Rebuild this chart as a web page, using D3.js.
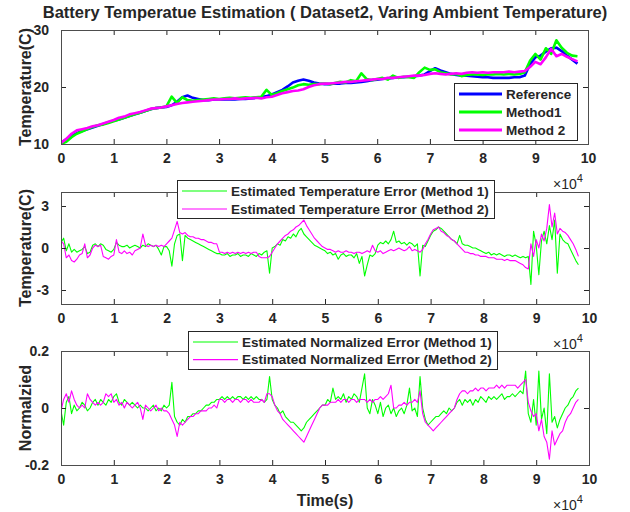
<!DOCTYPE html>
<html>
<head>
<meta charset="utf-8">
<script src="https://cdn.jsdelivr.net/npm/d3@7"></script>
<style>
  body { margin: 0; background: #fff; }
  text { font-family: Arial, "Liberation Sans", sans-serif; fill: #262626; }
</style>
</head>
<body>
<div id="chart"></div>
<script>
// sample times (s)
const timeTop = d3.range(0, 98001, 1000);
const timeErr = d3.range(0, 98001, 500);

// --- Top panel: temperature (C) ---
const tempRef = [
  10.2, 10.8, 11.4, 11.9, 12.3, 12.6, 12.9, 13.2, 13.5, 13.8,
  14.1, 14.3, 14.6, 14.9, 15.2, 15.5, 15.8, 16.1, 16.3, 16.4,
  16.5, 16.8, 17.4, 18.2, 18.5, 18.1, 17.9, 17.7, 17.7, 17.8,
  17.8, 17.8, 17.8, 17.8, 17.9, 17.9, 18.0, 18.1, 18.2, 18.4,
  18.7, 19.1, 19.5, 20.1, 20.8, 21.1, 21.3, 21.1, 20.8, 20.6,
  20.5, 20.5, 20.6, 20.6, 20.7, 20.7, 20.8, 20.9, 21.0, 21.2,
  21.3, 21.4, 21.5, 21.6, 21.7, 21.7, 21.8, 21.9, 22.0, 22.2,
  22.8, 23.3, 22.9, 22.6, 22.3, 22.1, 22.0, 22.0, 21.9, 21.8,
  21.7, 21.7, 21.6, 21.6, 21.6, 21.6, 21.7, 21.7, 22.0, 24.0,
  25.2, 25.5, 26.2, 26.8, 26.9, 26.3, 25.5, 24.8, 24.1
];
const tempM1 = [
  10.0, 10.4, 11.2, 11.8, 12.2, 12.6, 13.0, 13.3, 13.4, 13.7,
  14.0, 14.3, 14.6, 14.9, 15.2, 15.5, 15.8, 16.1, 16.3, 16.4,
  16.6, 18.3, 17.2, 18.2, 17.7, 17.6, 17.7, 17.8, 17.9, 18.0,
  17.9, 18.0, 18.1, 18.0, 18.1, 18.2, 18.1, 18.2, 18.3, 19.5,
  18.6, 18.9, 19.3, 19.6, 19.9, 20.3, 20.5, 20.4, 20.5, 20.5,
  20.6, 20.5, 20.7, 20.9, 20.8, 21.2, 21.0, 22.4, 21.4, 21.2,
  21.4, 21.6, 21.3, 22.0, 21.6, 21.8, 21.7, 21.6, 22.6, 23.4,
  23.0, 23.1, 22.6, 22.4, 22.2, 22.3, 21.9, 22.1, 22.2, 22.2,
  22.1, 22.2, 22.2, 22.3, 22.2, 22.3, 22.2, 22.3, 22.6, 24.6,
  25.8, 24.8, 26.8, 25.8, 28.2, 26.9, 26.0, 25.5, 25.4
];
const tempM2 = [
  10.2, 10.9, 11.8, 12.4, 12.6, 12.8, 13.1, 13.3, 13.6, 13.9,
  14.2, 14.6, 14.8, 15.2, 15.4, 15.6, 15.9, 16.2, 16.3, 16.4,
  16.6, 16.8, 17.0, 17.2, 17.3, 17.4, 17.5, 17.6, 17.7, 17.8,
  17.8, 17.9, 17.9, 18.0, 17.9, 18.0, 18.0, 18.1, 18.0, 18.2,
  18.3, 18.6, 18.9, 19.1, 19.3, 19.4, 19.6, 20.0, 20.3, 20.5,
  20.6, 20.6, 20.7, 20.8, 20.9, 20.9, 21.0, 21.1, 21.2, 21.3,
  21.4, 21.4, 21.6, 21.6, 21.7, 21.8, 21.9, 22.0, 22.0, 22.1,
  22.3, 22.4, 22.3, 22.2, 22.3, 22.4, 22.3, 22.5, 22.6, 22.5,
  22.6, 22.5, 22.6, 22.6, 22.6, 22.7, 22.6, 22.7, 22.8, 23.5,
  24.4, 24.0, 25.2, 26.7, 25.4, 25.8, 25.3, 24.9, 24.5
];

// --- Middle panel: temperature error (C) ---
const errM1 = [
  0.4, 0.7, -0.2, 0.3, -0.3, -0.1, -0.3, -0.2, -0.1, 0.1,
  -0.4, -0.3, 0.2, 0.3, 0.1, 0.3, 0.2, -0.1, -0.2, -0.3,
  -0.1, 0.4, 0.2, 0.1, 0.1, 0.2, 0.0, 0.1, 0.2, 0.1,
  0.0, 0.2, 0.1, 0.3, 0.2, 0.1, 0.2, -0.1, -0.5, 0.1,
  0.1, -0.2, -1.3, 0.3, 0.9, 1.0, -0.9, 0.9, 0.7, 0.6,
  0.5, 0.4, 0.3, 0.2, 0.1, 0.0, -0.1, -0.2, -0.3, -0.4,
  -0.4, -0.5, -0.5, -0.4, -0.6, -0.5, -0.5, -0.4, -0.6, -0.5,
  -0.5, -0.6, -0.4, -0.5, -0.6, -0.4, -0.5, -0.3, -0.2, -1.8,
  0.0, 0.1, 0.3, 0.2, 0.6, 0.5, 0.8, 0.7, 1.0, 0.8,
  1.2, 1.4, 1.0, 0.8, 0.6, 0.4, 0.2, 0.1, 0.0, -0.1,
  -0.2, -0.4, -0.3, -0.5, -0.4, -0.8, -0.5, -0.4, -0.6, -0.5,
  -0.5, -0.7, -0.4, -1.1, -0.6, -2.0, -1.2, -0.5, -0.6, -0.4,
  0.2, 0.4, 0.3, 0.5, 0.3, 0.6, 1.2, 0.4, 0.5, 0.3,
  0.4, 0.2, 0.4, 0.3, 0.1, 0.3, -2.0, 0.2, 0.1, 0.5,
  0.9, 1.2, 1.3, 1.5, 1.4, 1.2, 1.0, 0.8, 0.6, 0.5,
  0.3, 0.9, 0.3, 0.2, 0.2, 0.1, 0.0, 0.0, -0.1, -0.2,
  -0.3, -0.4, -0.3, -0.5, -0.4, -0.5, -0.4, -0.5, -0.6, -0.5,
  -0.5, -0.6, -0.5, -0.6, -0.7, -0.6, -0.7, -0.6, -2.6, 1.2,
  0.2, -1.9, 0.5, 1.2, 0.3, 1.6, 0.6, 2.0, -1.8, 1.0,
  0.6, 0.4, 0.3, -0.1, -0.5, -0.9, -1.2
];
const errM2 = [
  0.5, 0.3, -0.7, -0.5, -0.9, -1.0, -0.8, -0.5, -0.4, 0.3,
  -0.7, -0.5, 0.0, 0.2, 0.1, 0.2, -0.6, -0.7, -0.8, -0.6,
  -0.5, 0.6, -0.3, -0.4, -0.2, -0.4, -0.3, -0.5, -0.2, -0.1,
  0.0, 1.0, 0.2, 0.1, 0.2, 0.1, 0.2, 0.1, 0.2, 0.1,
  0.3, 0.5, 0.7, 1.3, 1.9, 1.1, 1.0, 1.1, 0.9, 0.8,
  0.8, 0.7, 0.7, 0.6, 0.6, 0.5, 0.4, 0.4, 0.3, 0.3,
  -0.3, -0.3, -0.4, -0.3, -0.4, -0.3, -0.4, -0.3, -0.4, -0.3,
  -0.4, -0.3, -0.4, -0.3, -0.3, -0.6, -0.7, -0.7, -0.7, -0.6,
  -0.3, 0.0, 0.3, 0.5, 0.7, 0.9, 1.0, 1.2, 1.3, 1.5,
  1.6, 1.8, 2.0, 1.6, 1.3, 1.0, 0.7, 0.5, 0.3, 0.1,
  0.0, -0.1, -0.1, -0.2, -0.3, -0.2, -0.3, -0.3, -0.2, -0.3,
  -0.3, -0.4, -0.3, -0.3, -0.4, -0.3, -0.2, -0.3, 0.2, -0.2,
  -0.3, -0.2, -0.4, -0.3, -0.2, -0.1, -0.2, -0.1, 0.0, -0.1,
  -0.2, -0.1, 0.1, -0.2, -0.1, -0.2, -0.3, -0.1, 0.3, 0.6,
  1.0, 1.3, 1.4, 1.5, 1.2, 1.1, 0.9, 0.8, 0.6, 0.5,
  0.3, 0.1, -0.1, -0.3, -0.3, -0.4, -0.4, -0.5, -0.5, -0.6,
  -0.6, -0.6, -0.7, -0.7, -0.7, -0.8, -0.8, -0.8, -0.9, -0.8,
  -0.9, -0.9, -0.9, -1.0, -1.1, -1.2, -1.4, -1.5, 0.3, -0.6,
  0.6, 0.0, 1.0, 0.5, 1.4, 3.1, 1.5, 2.5, 1.0, 1.4,
  1.2, 1.1, 0.9, 0.6, 0.3, -0.1, -0.6
];

// --- Bottom panel: normalized error ---
const normM1 = [
  -0.01, -0.06, 0.02, 0.04, -0.02, 0.01, -0.01, 0.0, 0.02, 0.01,
  -0.01, 0.0, 0.02, 0.03, 0.01, 0.03, 0.02, 0.01, 0.03, 0.02,
  0.04, 0.05, 0.02, 0.01, 0.03, 0.02, 0.01, 0.02, 0.01, 0.0,
  0.01, 0.0, 0.0, -0.01, 0.0, 0.01, -0.01, 0.0, -0.01, 0.01,
  0.0, 0.01, 0.09, -0.03, -0.05, -0.06, -0.04, -0.05, -0.03, -0.03,
  -0.02, -0.02, -0.01, -0.01, 0.0, 0.01, 0.01, 0.02, 0.02, 0.03,
  0.03, 0.04, 0.03, 0.04, 0.03, 0.04, 0.03, 0.04, 0.04, 0.03,
  0.04, 0.03, 0.04, 0.03, 0.04, 0.03, 0.03, 0.02, 0.03, 0.11,
  0.03, 0.01, 0.0, -0.02, -0.01, -0.03, -0.04, -0.05, -0.05, -0.06,
  -0.07, -0.08, -0.07, -0.05, -0.04, -0.03, -0.02, -0.01, 0.0, 0.01,
  0.01, 0.03, 0.02, 0.07, 0.03, 0.04, 0.03, 0.05, 0.02, 0.04,
  0.03, 0.05, 0.04, 0.02, 0.07, 0.12, 0.0, -0.02, 0.03, 0.01,
  -0.02, 0.02, -0.03, 0.0, 0.01, -0.02, 0.0, -0.03, -0.01, 0.0,
  -0.02, 0.01, 0.07, -0.01, 0.0, -0.03, 0.11, 0.0, -0.04, -0.06,
  -0.05, -0.04, -0.03, -0.03, -0.02, -0.01, -0.02, 0.0, -0.01, 0.0,
  0.02, 0.03, 0.01, 0.03, 0.02, 0.03, 0.01, 0.03, 0.02, 0.04,
  0.03, 0.02, 0.04, 0.03, 0.04, 0.03, 0.04, 0.05, 0.03, 0.04,
  0.04, 0.05, 0.04, 0.05, 0.06, 0.05, 0.13, -0.02, -0.05, 0.03,
  -0.06, 0.13, -0.04, 0.0, -0.09, 0.12, -0.05, -0.03, -0.07, -0.04,
  -0.02, 0.0, 0.01, 0.03, 0.04, 0.06, 0.07
];
const normM2 = [
  -0.01, 0.03, 0.05, 0.02, 0.06, 0.03, 0.01, 0.0, 0.01, 0.0,
  0.05, 0.03, 0.02, 0.01, 0.02, 0.01, 0.02, 0.05, 0.04, 0.05,
  0.02, 0.03, 0.01, 0.02, 0.0, 0.02, 0.01, 0.0, 0.01, 0.02,
  0.0, -0.04, 0.01, 0.0, -0.01, 0.0, 0.01, -0.01, 0.0, -0.01,
  -0.01, -0.02, -0.04, -0.06, -0.10, -0.05, -0.06, -0.05, -0.04, -0.03,
  -0.03, -0.02, -0.02, -0.01, -0.01, -0.01, 0.0, 0.0, 0.01, 0.0,
  0.03, 0.03, 0.02, 0.03, 0.03, 0.02, 0.03, 0.03, 0.02, 0.03,
  0.03, 0.02, 0.03, 0.02, 0.02, 0.02, 0.03, 0.02, 0.05, 0.05,
  0.04, 0.01, -0.01, -0.02, -0.04, -0.05, -0.06, -0.07, -0.08, -0.09,
  -0.10, -0.11, -0.12, -0.10, -0.08, -0.06, -0.04, -0.02, 0.0, 0.01,
  0.01, 0.01, 0.02, 0.02, 0.02, 0.03, 0.02, 0.03, 0.03, 0.02,
  0.03, 0.03, 0.02, 0.03, 0.03, 0.03, 0.02, 0.03, 0.02, 0.03,
  0.03, 0.04, 0.03, 0.04, 0.05, 0.08, 0.0, 0.0, 0.01, 0.01,
  0.02, 0.01, 0.02, 0.02, 0.03, 0.02, 0.06, -0.02, -0.05, -0.06,
  -0.07, -0.08, -0.07, -0.06, -0.05, -0.04, -0.03, -0.02, -0.01, 0.0,
  0.03, 0.05, 0.06, 0.06, 0.05, 0.06, 0.06, 0.07, 0.06, 0.07,
  0.07, 0.06, 0.07, 0.07, 0.07, 0.08, 0.07, 0.08, 0.07, 0.08,
  0.08, 0.08, 0.08, 0.07, 0.08, 0.09, 0.1, 0.02, -0.01, -0.03,
  -0.02, -0.08, -0.04, -0.1, -0.12, -0.18, -0.08, -0.13, -0.11, -0.09,
  -0.08, -0.05, -0.03, -0.02, 0.0, 0.02, 0.03
];

const xTicks = [0, 10000, 20000, 30000, 40000, 50000, 60000, 70000, 80000, 90000, 100000];
const axisColor = "#262626";
const minusFmt = d => String(d).replace("\u2212", "-");

// panel setup
const panels = [
  {
    top: 30, bottom: 144, right: 588,
    yDomain: [10, 30], yTicks: [10, 20, 30], ylabel: "Temperature(C)",
    times: timeTop, lw: 2.6,
    series: [
      { values: tempRef, color: "#0000ff", label: "Reference" },
      { values: tempM1, color: "#00ff00", label: "Method1" },
      { values: tempM2, color: "#ff00ff", label: "Method 2" }
    ],
    legend: { x: 454, y: 83, w: 123, h: 57, rowH: 18, lineW: 43, legendLw: 3.2 }
  },
  {
    top: 192, bottom: 304, right: 589,
    yDomain: [-4, 4], yTicks: [-3, 0, 3], ylabel: "Temperature(C)",
    times: timeErr, lw: 1.1,
    series: [
      { values: errM1, color: "#00ff00", label: "Estimated Temperature Error (Method 1)" },
      { values: errM2, color: "#ff00ff", label: "Estimated Temperature Error (Method 2)" }
    ],
    legend: { x: 177, y: 180, w: 317, h: 38, rowH: 18, lineW: 45, legendLw: 1.2 }
  },
  {
    top: 351, bottom: 465, right: 589,
    yDomain: [-0.2, 0.2], yTicks: [-0.2, 0, 0.2], ylabel: "Normalzied",
    times: timeErr, lw: 1.1,
    series: [
      { values: normM1, color: "#00ff00", label: "Estimated Normalized Error (Method 1)" },
      { values: normM2, color: "#ff00ff", label: "Estimated Normalized Error (Method 2)" }
    ],
    legend: { x: 188, y: 331, w: 309, h: 38, rowH: 17.6, lineW: 45, legendLw: 1.2 }
  }
];

const svg = d3.select("#chart")
  .append("svg")
  .attr("width", 630)
  .attr("height", 512);

// Title
svg.append("text")
  .attr("x", 325)
  .attr("y", 18)
  .attr("text-anchor", "middle")
  .attr("font-size", "16.5px")
  .attr("font-weight", "bold")
  .text("Battery Temperatue Estimation ( Dataset2, Varing Ambient Temperature)");

const left = 61;

panels.forEach(p => {
  const x = d3.scaleLinear().domain([0, 100000]).range([left, p.right]);
  const y = d3.scaleLinear().domain(p.yDomain).range([p.bottom, p.top]);
  const w = p.right - left, h = p.bottom - p.top;

  const g = svg.append("g");

  // data lines
  const clipId = "clip" + p.top;
  svg.append("clipPath").attr("id", clipId)
    .append("rect").attr("x", left).attr("y", p.top).attr("width", w).attr("height", h);

  const line = d3.line()
    .x((d, i) => x(p.times[i]))
    .y(d => y(d));

  p.series.forEach(s => {
    g.append("path")
      .datum(s.values)
      .attr("clip-path", `url(#${clipId})`)
      .attr("fill", "none")
      .attr("stroke", s.color)
      .attr("stroke-width", p.lw)
      .attr("stroke-linejoin", "round")
      .attr("d", line);
  });

  // axes (box with inward ticks)
  const tickLen = 5;
  g.append("g")
    .attr("transform", `translate(0,${p.bottom})`)
    .call(d3.axisBottom(x).tickValues(xTicks).tickSize(-tickLen).tickPadding(9).tickFormat(d => d / 10000))
    .call(a => a.select(".domain").remove());
  g.append("g")
    .attr("transform", `translate(0,${p.top})`)
    .call(d3.axisTop(x).tickValues(xTicks).tickSize(-tickLen).tickFormat(""))
    .call(a => a.select(".domain").remove());
  g.append("g")
    .attr("transform", `translate(${left},0)`)
    .call(d3.axisLeft(y).tickValues(p.yTicks).tickSize(-tickLen).tickPadding(12).tickFormat(d => minusFmt(d)))
    .call(a => a.select(".domain").remove());
  g.append("g")
    .attr("transform", `translate(${p.right},0)`)
    .call(d3.axisRight(y).tickValues(p.yTicks).tickSize(-tickLen).tickFormat(""))
    .call(a => a.select(".domain").remove());

  g.selectAll(".tick line").attr("stroke", axisColor);
  g.selectAll(".tick text")
    .attr("font-family", "Arial, 'Liberation Sans', sans-serif")
    .attr("font-size", "14px")
    .attr("font-weight", "bold")
    .attr("fill", axisColor);

  g.append("rect")
    .attr("x", left + 0.5).attr("y", p.top + 0.5)
    .attr("width", w).attr("height", h)
    .attr("fill", "none")
    .attr("stroke", "#4d4d4d")
    .attr("stroke-width", 1);

  // y label
  g.append("text")
    .attr("transform", `translate(31,${(p.top + p.bottom) / 2}) rotate(-90)`)
    .attr("text-anchor", "middle")
    .attr("font-size", "16px")
    .attr("font-weight", "bold")
    .text(p.ylabel);

  // x10^4 exponent label
  const ex = g.append("text")
    .attr("x", 553)
    .attr("y", p.bottom + 45)
    .attr("font-size", "14px");
  ex.append("tspan").text("\u00d710");
  ex.append("tspan").attr("dy", -7).attr("font-size", "11px").text("4");

  // legend
  const L = p.legend;
  const lg = g.append("g").attr("transform", `translate(${L.x},${L.y})`);
  lg.append("rect")
    .attr("x", 0.5).attr("y", 0.5)
    .attr("width", L.w).attr("height", L.h)
    .attr("fill", "#fff")
    .attr("stroke", axisColor)
    .attr("stroke-width", 1);
  p.series.forEach((s, i) => {
    const cy = 11 + i * L.rowH;
    lg.append("line")
      .attr("x1", 5).attr("x2", 5 + L.lineW)
      .attr("y1", cy).attr("y2", cy)
      .attr("stroke", s.color)
      .attr("stroke-width", L.legendLw);
    lg.append("text")
      .attr("x", 9 + L.lineW)
      .attr("y", cy)
      .attr("dy", "0.36em")
      .attr("font-size", "13.5px")
      .attr("font-weight", "bold")
      .text(s.label);
  });
});

// x label
svg.append("text")
  .attr("x", 325)
  .attr("y", 506)
  .attr("text-anchor", "middle")
  .attr("font-size", "16px")
  .attr("font-weight", "bold")
  .text("Time(s)");
</script>
</body>
</html>
